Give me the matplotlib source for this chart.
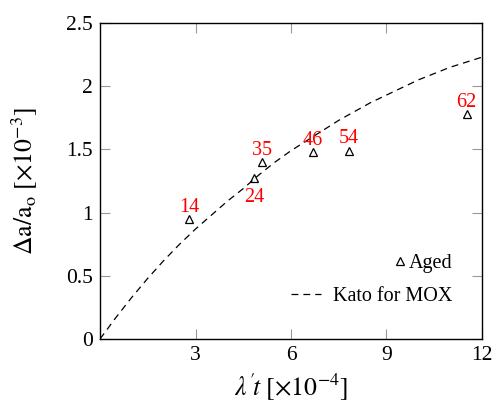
import numpy as np
import matplotlib
matplotlib.use('Agg')
import matplotlib.pyplot as plt
from matplotlib.lines import Line2D

plt.rcParams['font.family'] = ['Liberation Serif', 'DejaVu Serif']
plt.rcParams['mathtext.fontset'] = 'stix'

# aged samples (lambda't x1e-4, da/a0 x1e-3) and their labels
aged_x = [2.80, 4.85, 5.10, 6.69, 7.83, 11.52]
aged_y = [0.95, 1.27, 1.40, 1.48, 1.49, 1.78]
aged_lbl = ['14', '24', '35', '46', '54', '62']
lbl_below = [False, True, False, False, False, False]

# Kato for MOX curve
kato_x = [0, 0.5, 1, 1.5, 2, 2.5, 3, 3.5, 4, 4.5, 5, 5.5, 6, 6.5, 7, 7.5,
          8, 8.5, 9, 9.5, 10, 10.5, 11, 11.5, 12]
kato_y = [0, 0.17, 0.33, 0.48, 0.62, 0.75, 0.87, 0.98, 1.09, 1.19, 1.30, 1.40,
          1.49, 1.57, 1.65, 1.73, 1.80, 1.87, 1.93, 1.99, 2.05, 2.10, 2.15, 2.19, 2.23]

xticks = [3, 6, 9, 12]
yticks = [0, 0.5, 1, 1.5, 2, 2.5]
ytick_lbl = ['0', '0.5', '1', '1.5', '2', '2.5']

fig = plt.figure(figsize=(4.96, 4.03), dpi=100)
ax = fig.add_axes([100/496, 64/403, 382/496, 316/403])

ax.plot(kato_x, kato_y, color='black', lw=0.9, dashes=(5.5, 4))
ax.plot(aged_x, aged_y, ls='none', marker='^', ms=6, mfc='none', mec='black', mew=0.9)

for x, y, s, b in zip(aged_x, aged_y, aged_lbl, lbl_below):
    ax.annotate(s, (x, y), xytext=(0, -13.5 if b else 8.5), textcoords='offset points',
                ha='center', va='center', color='red', fontsize=14.5)

ax.set_xlim(0, 12)
ax.set_ylim(0, 2.5)
ax.set_xticks(xticks)
ax.set_yticks(yticks)
ax.set_yticklabels(ytick_lbl)
ax.tick_params(direction='in', length=7, width=0.8, color='#999999',
               top=True, right=True, labelsize=15.5, pad=5)
for sp in ax.spines.values():
    sp.set_linewidth(1.0)

ax.set_xlabel(r"$\lambda'\!t\ [\times10^{-4}]$", fontsize=18.5, va='center')
ax.set_ylabel(r"$\Delta\mathrm{a/a_o}\ [\times10^{-3}]$", fontsize=18.5, va='center')
ax.xaxis.set_label_coords(0.5, -0.149)
ax.yaxis.set_label_coords(-0.196, 0.5)

h1 = Line2D([], [], ls='none', marker='^', ms=6, mfc='none', mec='black', mew=0.9)
h2 = Line2D([], [], color='black', lw=0.9, dashes=(5.5, 4))
leg1 = ax.legend([h1], ['Aged'], loc='lower right', bbox_to_anchor=(0.944, 0.183),
                 frameon=False, fontsize=14.5, handlelength=0.4, handletextpad=0.25,
                 borderaxespad=0)
ax.add_artist(leg1)
ax.legend([h2], ['Kato for MOX'], loc='lower right', bbox_to_anchor=(0.944, 0.078),
          frameon=False, fontsize=14.5, handlelength=1.5, handletextpad=0.6,
          borderaxespad=0)

fig.savefig('out.png', dpi=100)
